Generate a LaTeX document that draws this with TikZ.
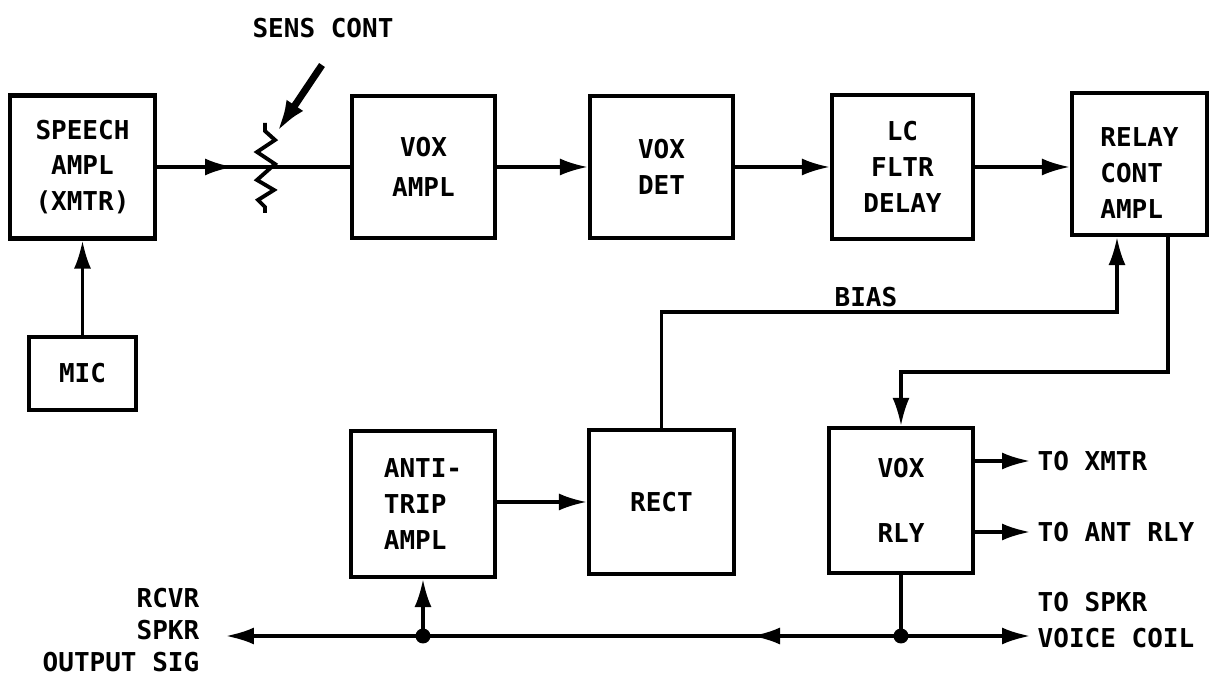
\documentclass[tikz,border=0pt]{standalone}
\usepackage{fontspec}
\setmainfont{DejaVu Sans Mono}
\usepackage{tikz}
\usetikzlibrary{arrows.meta,positioning}

\begin{document}
\begin{tikzpicture}[x=0.1mm,y=-0.1mm,font=\fontsize{7.4}{10.2}\selectfont\bfseries,
    blk/.style={draw,line width=1.2pt,inner sep=0pt,align=center},
    wire/.style={line width=0.9pt},
    a/.style={wire,-{Latex[length=2.8mm,width=1.7mm]}},
    pointer/.style={line width=2pt,-{Latex[length=3.2mm,width=2mm]}},
    lbl/.style={inner sep=0pt},
    outlbl/.style={inner sep=0.7mm,align=left}]
  \useasboundingbox (0,0) rectangle (1210,678);
  % upper chain
  \node[blk,minimum width=14.5mm,minimum height=14.3mm] (speech) at (82.5,167) {SPEECH\\AMPL\\(XMTR)};
  \node[blk,minimum width=10.7mm,minimum height=7.3mm] (mic) at (82.5,373.5) {MIC};
  \node[blk,minimum width=14.3mm,minimum height=14.2mm] (voxampl) at (423.5,167) {VOX\\[1pt]AMPL};
  \node[blk,minimum width=14.3mm,minimum height=14.2mm] (voxdet) at (661.5,167) {VOX\\DET};
  \node[blk,minimum width=14.1mm,minimum height=14.4mm] (lcfltr) at (902.5,167) {LC\\FLTR\\DELAY};
  \node[blk,minimum width=13.5mm,minimum height=14.2mm] (relay) at (1139.5,164) {};
  \node[lbl,align=left] (relaytxt) at ([yshift=-0.9mm]relay.center) {RELAY\\CONT\\AMPL};
  % lower chain
  \node[blk,minimum width=14.4mm,minimum height=14.6mm,align=left] (antitrip) at (423,504) {ANTI-\\TRIP\\AMPL};
  \node[blk,minimum width=14.5mm,minimum height=14.4mm] (rect) at (661.5,502) {RECT};
  \node[blk,minimum width=14.4mm,minimum height=14.5mm] (voxrly) at (901,500.5) {VOX\\[8.3pt]RLY};
  % labels
  \node[lbl] (sens) at (323,28) {SENS CONT};
  \node[lbl] (bias) at (866,297) {BIAS};
  \node[outlbl,anchor=west] (toxmtr) at (1030,461) {TO XMTR};
  \node[outlbl,anchor=west] (toant) at (1030,532) {TO ANT RLY};
  \node[outlbl,anchor=west] (spkr) at (1030,620) {TO SPKR\\VOICE COIL};
  \node[outlbl,anchor=east,align=right,font=\fontsize{7.4}{9}\selectfont\bfseries] (rcvr) at (207,630) {RCVR\\SPKR\\OUTPUT SIG};
  % sens control pot
  \coordinate (pot) at (265,167);
  \coordinate (potarr) at (233,167);
  \coordinate (senstail) at (322,65);
  \coordinate (senstip) at (277,132);
  \begin{scope}[shift={(pot)}]
    \draw[wire,line width=1.1pt] (0,-44) -- (0,-36) -- (10,-27) -- (-8,-15) -- (10,-3) -- (-8,13) -- (9,23) -- (-7,33) -- (0,40) -- (0,46);
  \end{scope}
  \draw[pointer] (senstail) -- (senstip);
  % signal path
  \draw[a] (mic.north) -- (mic.north |- speech.south);
  \draw[wire] (speech.east) -- (voxampl.west);
  \draw[a] (speech.east) -- (potarr);
  \draw[a] (voxampl.east) -- (voxdet.west);
  \draw[a] (voxdet.east) -- (lcfltr.west);
  \draw[a] (lcfltr.east) -- (lcfltr.east -| relay.west);
  \draw[a] (antitrip.east |- rect.west) -- (rect.west);
  % bias and relay drive
  \coordinate (biasin) at ([xshift=-2.25mm]relay.south);
  \coordinate (rlyout) at ([xshift=2.85mm]relay.south);
  \draw[a] (rect.north) -- (rect.north |- 0,312) -| (biasin);
  \draw[wire] (rlyout) -- (rlyout |- 0,372) -| (voxrly.north |- 0,400);
  \draw[a] (voxrly.north |- 0,395) -- (voxrly.north);
  \draw[a] (voxrly.east |- toxmtr) -- (toxmtr.west);
  \draw[a] (voxrly.east |- toant) -- (toant.west);
  % speaker bus
  \coordinate (vjoin) at (voxrly.south |- 0,636);
  \coordinate (ajoin) at (antitrip.south |- 0,636);
  \coordinate (busmid) at (752,636);
  \coordinate (busl) at (226,636);
  \draw[wire] (voxrly.south) -- (vjoin);
  \draw[a] (vjoin) -- (vjoin -| spkr.west);
  \draw[a] (vjoin) -- (busl);
  \draw[a] (vjoin) -- (busmid);
  \draw[a] (ajoin) -- (antitrip.south);
  \fill (ajoin) circle (0.75mm);
  \fill (vjoin) circle (0.75mm);
\end{tikzpicture}
\end{document}
